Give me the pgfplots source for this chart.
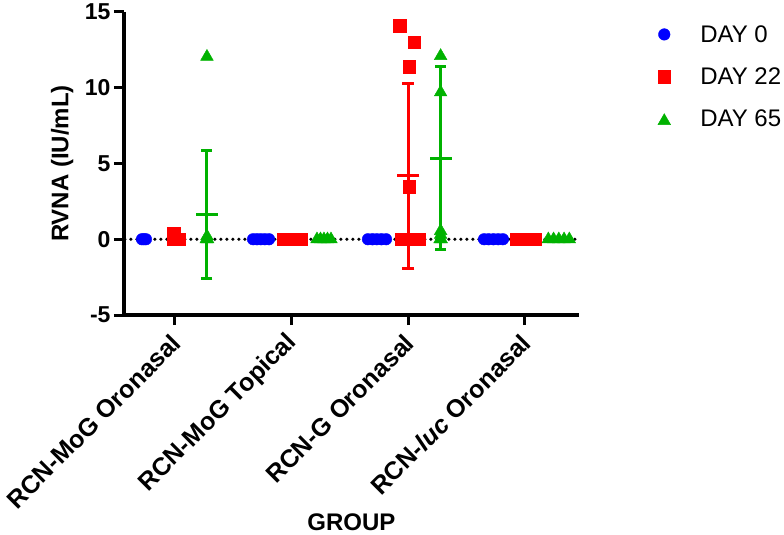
\documentclass[border=0pt]{standalone}
\usepackage{pgfplots}
\pgfplotsset{compat=1.18}
\usepackage{fontspec}
\setmainfont{Liberation Sans}
\definecolor{gpblue}{RGB}{0,0,255}
\definecolor{gpred}{RGB}{255,0,0}
\definecolor{gpgreen}{RGB}{0,178,0}
\pgfplotsset{
  mylegimg/.style={legend image code/.code={\draw[##1] plot coordinates {(12pt,0pt)}; \path[draw=none,fill=none] (0pt,-9pt) rectangle (46pt,9pt);}},
  mylegimgtri/.style={legend image code/.code={\draw[##1] plot coordinates {(12pt,-2pt)}; \path[draw=none,fill=none] (0pt,-9pt) rectangle (46pt,9pt);}},
}
\begin{document}
\begin{tikzpicture}
\begin{axis}[
  at={(0,0)}, anchor=south west,
  scale only axis, width=455pt, height=303pt,
  xmin=0.563, xmax=4.463, ymin=-5, ymax=15,
  axis lines=left,
  axis line style={line width=3.5pt, -},
  xtick={1,2,3,4},
  xticklabels={RCN-MoG Oronasal, RCN-MoG Topical, RCN-G Oronasal, RCN-\textit{luc} Oronasal},
  ytick={-5,0,5,10,15},
  tick align=outside,
  major tick length=10pt,
  tick style={line width=3pt, black},
  /pgf/number format/assume math mode=true,
  yticklabel style={font=\bfseries\fontsize{23}{25}\selectfont},
  xticklabel style={font=\bfseries\fontsize{25}{28}\selectfont, yshift=-13pt, xshift=2pt, rotate=45, anchor=east, inner sep=1pt},
  ylabel={\bfseries RVNA (IU/mL)},
  ylabel style={font=\fontsize{24}{28}\selectfont, at={(axis description cs:0,0.5)}, anchor=south, yshift=47pt},
  xlabel={\bfseries GROUP},
  xlabel style={font=\fontsize{24}{28}\selectfont, at={(axis description cs:0.5,0)}, anchor=center, yshift=-207pt},
  legend style={draw=none, fill=none, at={(axis description cs:1.154,0.97)}, anchor=north west,
    font=\fontsize{24}{28}\selectfont, row sep=20pt},
  legend cell align=left,
  clip=false,
]
\coordinate (O) at (rel axis cs:0,0);
% zero reference line
\addplot[black, line width=3.5pt, line cap=round, dash pattern=on 0pt off 6pt, forget plot]
  coordinates {(0.57,0) (4.46,0)};
% mean +- SD
\addplot[gpgreen, only marks, mark=-, mark size=11pt, line width=3pt, forget plot,
  error bars/.cd, y dir=both, y explicit,
  error bar style={line width=3pt},
  error mark options={rotate=90, mark size=5.5pt, line width=3pt}]
  coordinates {(1.274,1.65) +- (0,4.24) (3.277,5.35) +- (0,6.03)};
\addplot[gpred, only marks, mark=-, mark size=11pt, line width=3pt, forget plot,
  error bars/.cd, y dir=both, y explicit,
  error bar style={line width=3pt},
  error mark options={rotate=90, mark size=6pt, line width=3pt}]
  coordinates {(3.0,4.18) +- (0,6.1)};
% DAY 0
\addplot[only marks, mark=*, mark size=5.8pt, gpblue, mark options={draw=gpblue, fill=gpblue}, mylegimg]
  coordinates {
  (0.717,0) (0.734,0) (0.751,0)
  (1.669,0) (1.703,0) (1.737,0) (1.771,0) (1.806,0)
  (2.654,0) (2.693,0) (2.731,0) (2.770,0) (2.809,0)
  (3.649,0) (3.689,0) (3.730,0) (3.770,0) (3.811,0)
  };
\addlegendentry{DAY 0}
% DAY 22
\addplot[only marks, mark=square*, mark size=6.2pt, gpred, mark options={draw=gpred, fill=gpred}, mylegimg]
  coordinates {
  (0.983,0) (1.010,0) (1.034,0) (0.990,0.4)
  (1.926,0) (1.965,0) (2.003,0) (2.041,0) (2.080,0)
  (2.937,0) (2.975,0) (3.013,0) (3.051,0) (3.090,0)
  (3.008,3.48) (3.008,11.39) (3.050,13.0) (2.925,14.1)
  (3.923,0) (3.964,0) (4.004,0) (4.045,0) (4.086,0)
  };
\addlegendentry{DAY 22}
% DAY 65
\addplot[only marks, mark=triangle*, mark size=7.3pt, gpgreen, mark options={draw=gpgreen, fill=gpgreen}, mylegimgtri]
  coordinates {
  (1.268,0) (1.280,0) (1.274,0.2) (1.274,12.05)
  (2.217,0) (2.247,0) (2.277,0) (2.307,0) (2.337,0)
  (3.272,0) (3.282,0) (3.277,0.3) (3.277,0.55) (3.277,9.7) (3.277,12.1)
  (4.200,0) (4.245,0) (4.290,0) (4.335,0) (4.380,0)
  };
\addlegendentry{DAY 65}
\end{axis}
\pgfresetboundingbox
\path[use as bounding box] ([shift={(-124pt,-220pt)}]O) rectangle ([shift={(660pt,315pt)}]O);
\end{tikzpicture}
\end{document}
